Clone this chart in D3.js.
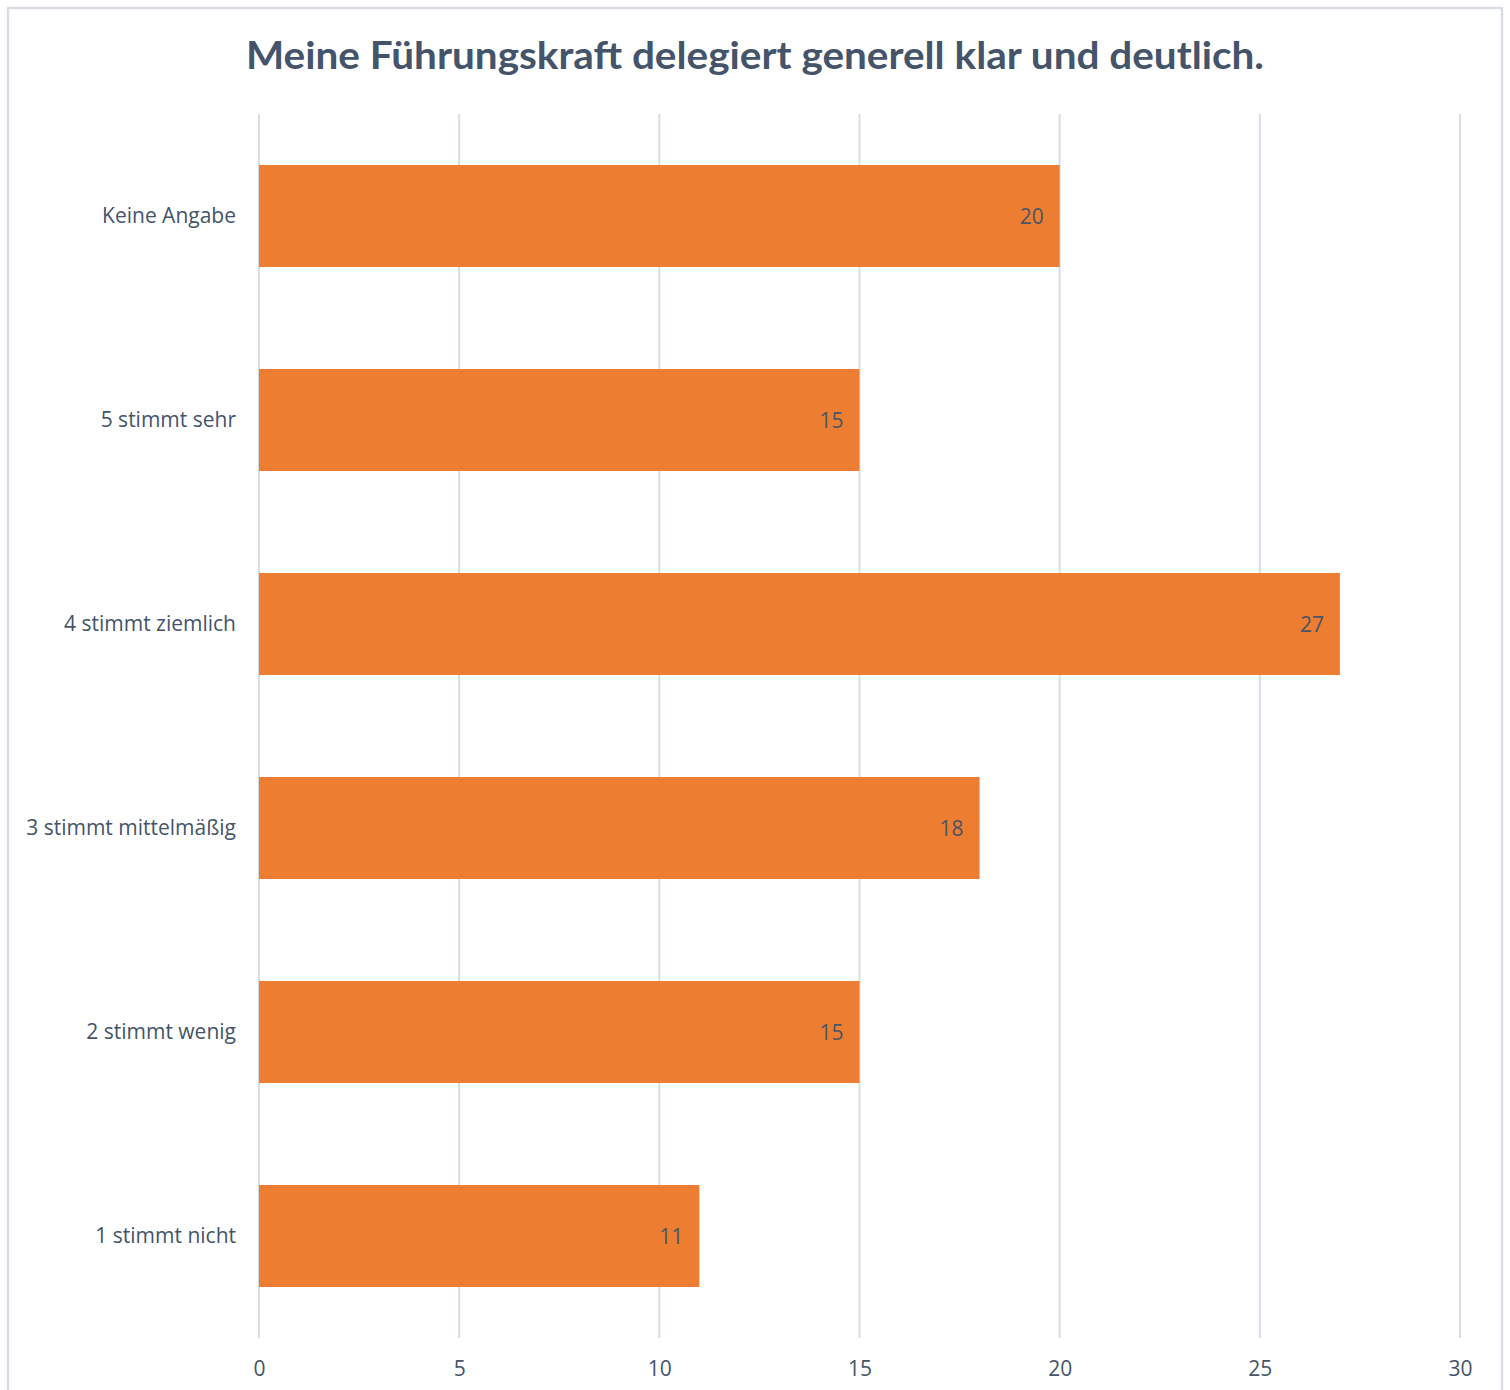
<!DOCTYPE html>
<html>
<head>
<meta charset="utf-8">
<script src="https://cdn.jsdelivr.net/npm/d3@7"></script>
<style>
  html, body { margin: 0; padding: 0; background: #ffffff; }
  svg { display: block; }
</style>
</head>
<body>
<script>
// Survey answers, top to bottom
const categories = ["Keine Angabe", "5 stimmt sehr", "4 stimmt ziemlich", "3 stimmt mittelmäßig", "2 stimmt wenig", "1 stimmt nicht"];
const counts = [20, 15, 27, 18, 15, 11];
const tickValues = [0, 5, 10, 15, 20, 25, 30];
const title = "Meine Führungskraft delegiert generell klar und deutlich.";

const W = 1510, H = 1390;
const textColor = "#44546A";
const gridColor = "#D9DDE6";
const barColor = "#ED7D31";
const titleFont = "Lato, 'Open Sans', sans-serif";
const font = "'Open Sans', Lato, sans-serif";

const svg = d3.select("body").append("svg")
  .attr("width", W).attr("height", H);

// chart frame
svg.append("rect")
  .attr("x", 8).attr("y", 8)
  .attr("width", 1494).attr("height", H + 20)
  .attr("fill", "#fff")
  .attr("stroke", gridColor).attr("stroke-width", 2.5);

const plot = { left: 259, right: 1460, top: 114, bottom: 1338 };

const x = d3.scaleLinear().domain([0, 30]).range([plot.left, plot.right]);
const y = d3.scaleBand().domain(categories).range([plot.top, plot.bottom]).paddingInner(0.5).paddingOuter(0.25);

// title
svg.append("text")
  .attr("x", 755).attr("y", 69)
  .attr("text-anchor", "middle")
  .attr("font-family", titleFont)
  .attr("font-weight", "bold")
  .attr("font-size", 38)
  .attr("fill", textColor)
  .attr("textLength", 1018)
  .attr("lengthAdjust", "spacingAndGlyphs")
  .text(title);

// vertical gridlines
svg.append("g")
  .selectAll("line")
  .data(tickValues)
  .join("line")
  .attr("x1", d => x(d)).attr("x2", d => x(d))
  .attr("y1", plot.top).attr("y2", plot.bottom)
  .attr("stroke", gridColor).attr("stroke-width", 2);

// x axis labels
const xAxis = d3.axisBottom(x).tickValues(tickValues).tickSize(0).tickPadding(0);
const gx = svg.append("g")
  .attr("transform", `translate(0,${plot.bottom + 23})`)
  .call(xAxis);
gx.select(".domain").remove();
gx.selectAll("text")
  .attr("font-family", font)
  .attr("font-size", 21)
  .attr("fill", textColor);

// category labels
const yAxis = d3.axisLeft(y).tickSize(0).tickPadding(23);
const gy = svg.append("g")
  .attr("transform", `translate(${plot.left},0)`)
  .call(yAxis);
gy.select(".domain").remove();
gy.selectAll("text")
  .attr("font-family", font)
  .attr("font-size", 21)
  .attr("fill", textColor);

// bars
svg.append("g")
  .selectAll("rect")
  .data(categories)
  .join("rect")
  .attr("x", x(0))
  .attr("y", d => y(d))
  .attr("width", (d, i) => x(counts[i]) - x(0))
  .attr("height", y.bandwidth())
  .attr("fill", barColor);

// value labels inside bar ends
svg.append("g")
  .selectAll("text")
  .data(categories)
  .join("text")
  .attr("x", (d, i) => x(counts[i]) - 16)
  .attr("y", d => y(d) + y.bandwidth() / 2 + 8)
  .attr("text-anchor", "end")
  .attr("font-family", font)
  .attr("font-size", 21)
  .attr("fill", "#4a5566")
  .text((d, i) => counts[i]);
</script>
</body>
</html>
